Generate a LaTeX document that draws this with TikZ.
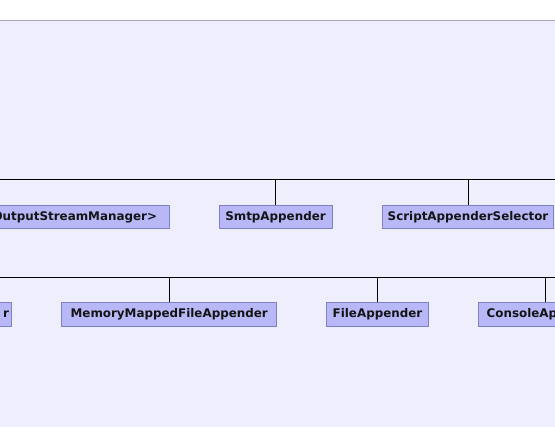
\documentclass[tikz,border=0pt]{standalone}
\usepackage{fontspec}
\setmainfont{DejaVu Sans}
\definecolor{bgc}{RGB}{238,238,252}
\definecolor{boxfill}{RGB}{184,184,248}
\definecolor{boxedge}{RGB}{128,128,196}
\definecolor{topline}{RGB}{168,168,184}
\definecolor{txt}{RGB}{20,20,20}
\tikzset{
  cls/.style={draw=boxedge, fill=boxfill, line width=1pt, inner sep=0pt,
    minimum height=23.4pt, text=txt,
    font=\bfseries\fontsize{11.9}{14}\selectfont},
  link/.style={draw=black, line width=1pt}
}
\begin{document}
\begin{tikzpicture}[x=1pt,y=-1pt]
\useasboundingbox (0,0) rectangle (555,427);
\clip (0,0) rectangle (555,427);
\fill[white] (0,0) rectangle (555,20);
\fill[bgc] (0,20) rectangle (555,427);
\draw[topline, line width=1.5pt] (0,20.5) -- (555,20.5);

% buses
\coordinate (b1w) at (-5,180);
\coordinate (b1e) at (560,180);
\coordinate (b2w) at (-5,278);
\coordinate (b2e) at (560,278);
\draw[link] (b1w) -- (b1e);
\draw[link] (b2w) -- (b2e);

% row 1
\node[cls, anchor=east, text width=180pt, align=right, inner xsep=12pt] (osm) at (169.5,217) {OutputStreamManager>};
\node[cls, minimum width=113pt] (smtp) at (275.5,217) {SmtpAppender};
\node[cls, minimum width=170.6pt] (script) at (468,217) {ScriptAppenderSelector};

% row 2
\node[cls, anchor=east, text width=40pt, align=right, inner xsep=2pt] (rolling) at (11.5,314.5) {r};
\node[cls, minimum width=215pt] (mmf) at (169.2,314.5) {MemoryMappedFileAppender};
\node[cls, minimum width=101.6pt] (file) at (377.5,314.5) {FileAppender};
\node[cls, minimum width=134.8pt] (console) at (545.7,314.5) {ConsoleAppender};

% connectors
\draw[link] (smtp.north) -- (smtp.north |- b1w);
\draw[link] (script.north) -- (script.north |- b1w);
\draw[link] (mmf.north) -- (mmf.north |- b2w);
\draw[link] (file.north) -- (file.north |- b2w);
\draw[link] (console.north) -- (console.north |- b2w);
\end{tikzpicture}
\end{document}
